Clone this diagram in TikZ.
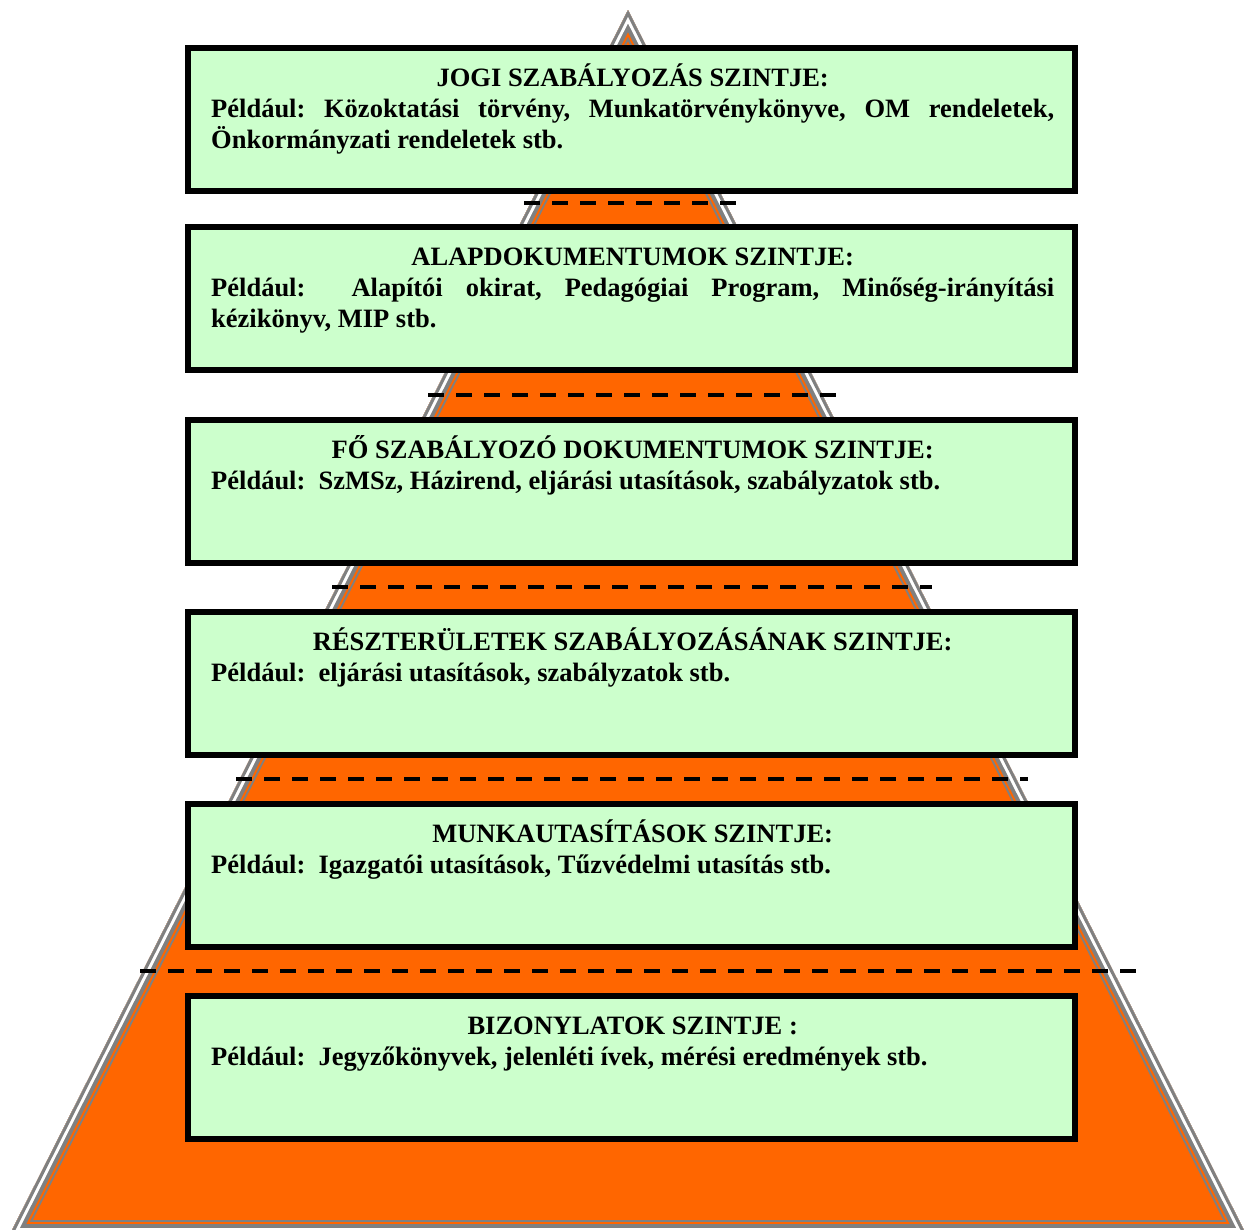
\documentclass[tikz,border=0pt]{standalone}
\usepackage{fontspec}
\setmainfont{Liberation Serif}
\frenchspacing
\definecolor{orng}{HTML}{FF6600}
\definecolor{lgreen}{HTML}{CCFFCC}
\definecolor{pgray}{HTML}{808080}
\begin{document}
\begin{tikzpicture}[x=1pt,y=-1pt,
  box/.style={draw=black, line width=6pt, fill=lgreen, minimum width=887pt, minimum height=143pt, inner sep=0pt},
  txt/.style={anchor=base west, inner sep=0pt, text width=843pt, align=justify,
    font=\fontsize{26.5}{31}\selectfont\bfseries\frenchspacing},
  dashline/.style={draw=black, line width=4pt, dash pattern=on 16pt off 12pt}]
\useasboundingbox (0,0) rectangle (1246,1229);
\coordinate (apex) at (628,10);
\coordinate (bl) at (10,1234);
\coordinate (br) at (1246,1234);
\begin{scope}
\clip (0,0) rectangle (1246,1229);
\clip (apex) -- (bl) -- (br) -- cycle;
\fill[orng] (apex) -- (bl) -- (br) -- cycle;
\draw[pgray, line width=28pt] (apex) -- (bl) -- (br) -- cycle;
\draw[orng, line width=24pt] (apex) -- (bl) -- (br) -- cycle;
\draw[pgray, line width=20pt] (apex) -- (bl) -- (br) -- cycle;
\draw[white, line width=12pt] (apex) -- (bl) -- (br) -- cycle;
\draw[pgray, line width=6pt] (apex) -- (bl) -- (br) -- cycle;
\end{scope}
% dashed separators
\coordinate (d1a) at (524,203);  \coordinate (d1b) at (737,203);
\coordinate (d2a) at (428,395);  \coordinate (d2b) at (836,395);
\coordinate (d3a) at (332,587);  \coordinate (d3b) at (932,587);
\coordinate (d4a) at (236,779);  \coordinate (d4b) at (1028,779);
\coordinate (d5a) at (140,971);  \coordinate (d5b) at (1136,971);
\draw[dashline] (d1a) -- (d1b);
\draw[dashline] (d2a) -- (d2b);
\draw[dashline] (d3a) -- (d3b);
\draw[dashline] (d4a) -- (d4b);
\draw[dashline] (d5a) -- (d5b);
% boxes
\node[box] (b1) at (631.5,119.5) {};
\node[box] (b2) at (631.5,298.5) {};
\node[box] (b3) at (631.5,491.5) {};
\node[box] (b4) at (631.5,683.5) {};
\node[box] (b5) at (631.5,875.5) {};
\node[box] (b6) at (631.5,1067.5) {};
% texts
\node[txt] (t1) at (211,86) {{\centering JOGI SZABÁLYOZÁS SZINTJE:\par}Például: Közoktatási törvény, Munkatörvénykönyve, OM rendeletek,\linebreak Önkormányzati rendeletek stb.};
\node[txt] (t2) at (211,265) {{\centering ALAPDOKUMENTUMOK SZINTJE:\par}Például:\ \ Alapítói okirat, Pedagógiai Program, Minőség-irányítási\linebreak kézikönyv, MIP stb.};
\node[txt] (t3) at (211,458) {{\centering FŐ SZABÁLYOZÓ DOKUMENTUMOK SZINTJE:\par}Például:\ \ SzMSz, Házirend, eljárási utasítások, szabályzatok stb.};
\node[txt] (t4) at (211,650) {{\centering RÉSZTERÜLETEK SZABÁLYOZÁSÁNAK SZINTJE:\par}Például:\ \ eljárási utasítások, szabályzatok stb.};
\node[txt] (t5) at (211,842) {{\centering MUNKAUTASÍTÁSOK SZINTJE:\par}Például:\ \ Igazgatói utasítások, Tűzvédelmi utasítás stb.};
\node[txt] (t6) at (211,1034) {{\centering BIZONYLATOK SZINTJE :\par}Például:\ \ Jegyzőkönyvek, jelenléti ívek, mérési eredmények stb.};
\end{tikzpicture}
\end{document}
